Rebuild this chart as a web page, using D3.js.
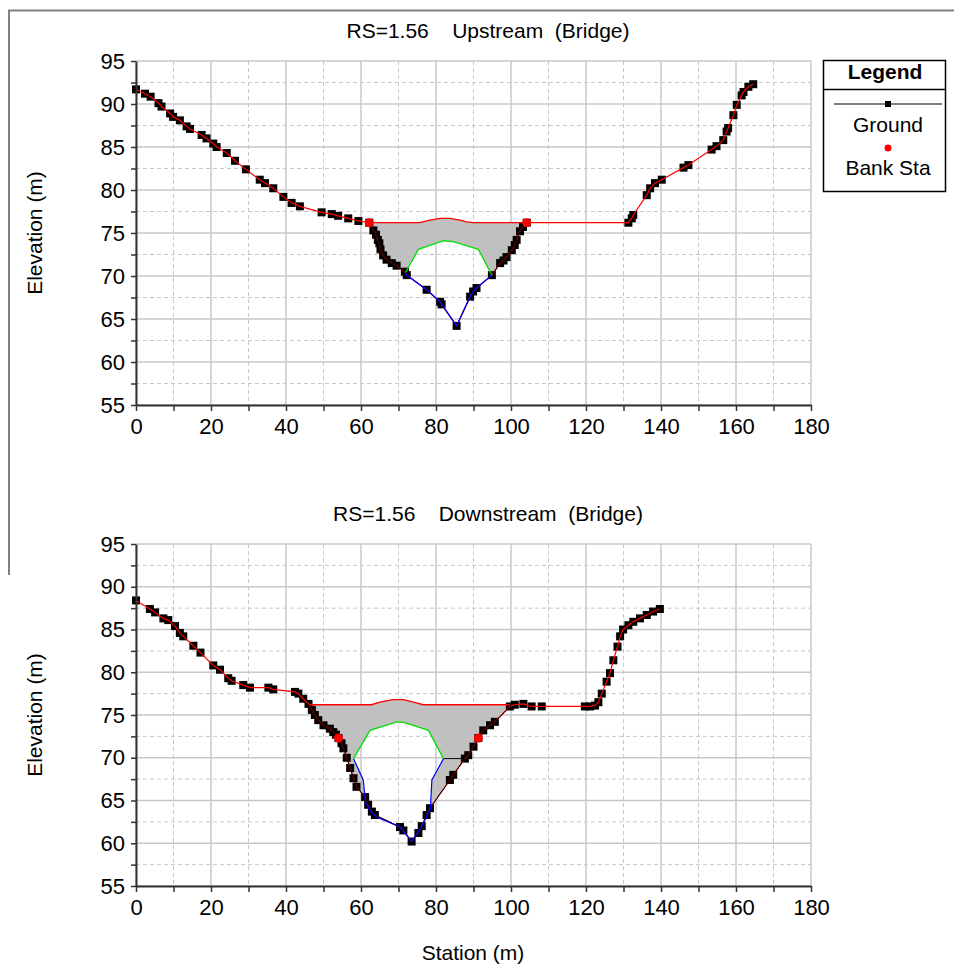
<!DOCTYPE html>
<html><head><meta charset="utf-8">
<script src="https://cdn.jsdelivr.net/npm/d3@7"></script>
<style>body{margin:0;background:#fff} text{font-family:"Liberation Sans",Arial,sans-serif;fill:#000}</style>
</head><body><svg id="c" width="954" height="967"></svg>
<script>
// ---------- Upstream (Bridge) ----------
const upGroundSta = [0,2.4,3.9,6.0,6.8,9.1,9.9,11.7,13.5,14.4,17.5,18.8,20.6,21.5,24.2,26.4,29.3,33.0,34.4,36.6,39.3,41.5,43.7,49.5,52.2,53.9,56.6,59.3,62.2,63.3,64.0,64.5,64.9,65.2,65.9,66.8,68.2,69.5,71.7,72.2,77.5,81.1,81.5,85.5,89.1,89.9,90.8,94.9,97.1,98.0,98.8,100.2,101.0,101.5,102.4,103.2,104.2,131.3,132.2,132.6,136.2,137.1,138.4,140.2,146.0,147.3,153.5,154.8,156.6,157.5,157.9,159.3,160.2,161.5,162.0,163.3,164.6];
const upGroundElev = [91.7,91.2,90.85,90.1,89.7,88.9,88.5,88.1,87.4,87.1,86.4,86.0,85.4,85.0,84.3,83.4,82.4,81.2,80.8,80.2,79.2,78.5,78.1,77.4,77.2,77.0,76.7,76.4,76.2,75.3,74.8,74.2,73.8,73.1,72.4,71.9,71.5,71.2,70.5,70.1,68.4,67.0,66.7,64.2,67.6,68.2,68.6,70.1,71.5,71.8,72.2,73.0,73.6,74.2,75.2,75.7,76.2,76.2,76.7,77.1,79.4,80.2,80.8,81.2,82.6,82.9,84.7,85.1,85.8,86.8,87.2,88.7,89.9,91.0,91.4,92.0,92.3];
const upBankSta = [62.2,104.2];
const upBankElev = [76.2,76.2];
const upDeckSta = [62.2,75.7,78.4,81.1,83.7,86.4,88.2,89.9,104.2];
const upDeckElev = [76.2,76.2,76.5,76.7,76.7,76.5,76.3,76.2,76.2];
const upLowChordSta = [71.9,75.3,82.0,84.6,91.3,94.9];
const upLowChordElev = [70.4,73.1,74.1,74.0,73.1,70.1];
const upOpeningSta = [71.9,72.2,77.5,81.1,81.5,85.5,89.1,89.9,90.8,94.9];
const upOpeningElev = [70.4,70.1,68.4,67.0,66.7,64.2,67.6,68.2,68.6,70.1];

// ---------- Downstream (Bridge) ----------
const dnGroundSta = [0,3.7,5.1,7.3,8.6,10.4,11.7,12.6,15.3,17.2,20.6,22.4,24.6,25.5,28.6,30.4,35.3,36.6,42.4,43.3,44.6,46.0,46.9,47.7,48.6,50.0,51.7,52.6,53.3,54.0,54.8,55.3,56.2,57.1,58.0,58.8,61.1,61.9,62.9,63.7,70.4,71.3,73.5,75.3,76.2,77.5,78.4,83.7,84.6,87.7,88.6,90.0,91.3,92.6,94.4,95.7,99.7,101.0,103.3,105.5,108.2,119.7,121.1,122.4,123.3,124.2,125.5,126.4,127.3,128.4,129.1,129.9,131.3,132.6,134.4,136.2,137.9,139.7];
const dnGroundElev = [88.4,87.4,87.0,86.3,86.1,85.4,84.6,84.2,83.1,82.3,80.8,80.3,79.3,79.0,78.5,78.2,78.2,78.0,77.7,77.5,76.9,76.3,75.6,75.0,74.4,73.8,73.4,73.0,72.7,72.3,71.7,71.1,70.0,68.8,67.6,66.6,65.4,64.5,63.7,63.3,61.9,61.5,60.2,61.2,62.0,63.3,64.1,67.4,68.0,69.9,70.3,71.3,72.3,73.2,73.8,74.2,76.0,76.2,76.3,76.0,76.0,76.0,76.0,76.1,76.5,77.5,78.9,79.9,81.4,83.0,84.2,85.0,85.5,85.9,86.3,86.7,87.1,87.4];
const dnBankSta = [54.0,91.3];
const dnBankElev = [72.3,72.3];
const dnDeckSta = [46.2,62.8,65.0,68.5,71.3,74.0,76.6,99.7];
const dnDeckElev = [76.2,76.2,76.5,76.8,76.8,76.5,76.2,76.2];
const dnLowChordSta = [58.0,62.4,69.5,71.7,78.0,82.0];
const dnLowChordElev = [69.9,73.2,74.2,74.1,73.2,69.9];
const dnOpeningSta = [58.0,60.6,61.2,62.9,64.4,70.4,73.5,76.2,78.5,78.9,82.0];
const dnOpeningElev = [69.9,67.4,64.8,63.5,63.0,61.9,60.2,62.0,64.0,67.4,69.9];
const dnChordLineSta = [82.0,87.7];
const dnChordLineElev = [69.9,69.9];

// ---------- Axes ----------
const xMajorTicks = [0,20,40,60,80,100,120,140,160,180];
const xMinorTicks = [10,30,50,70,90,110,130,150,170];
const yMajorTicks = [55,60,65,70,75,80,85,90,95];
const yMinorTicks = [57.5,62.5,67.5,72.5,77.5,82.5,87.5,92.5];

const svg = d3.select("#c");
const zip = (a,b) => a.map((v,i)=>[v,b[i]]);

// outer frame
svg.append("line").attr("x1",8).attr("x2",954).attr("y1",10.5).attr("y2",10.5).attr("stroke","#808080").attr("stroke-width",2);
svg.append("line").attr("x1",9).attr("x2",9).attr("y1",10).attr("y2",575).attr("stroke","#808080").attr("stroke-width",2);

function panel(cfg){
  const x = d3.scaleLinear().domain([0,180]).range([136,811]);
  const y = d3.scaleLinear().domain([55,95]).range([cfg.y1,cfg.y0]);
  const g = svg.append("g");
  // grid
  xMinorTicks.forEach(t=>g.append("line").attr("x1",x(t)).attr("x2",x(t)).attr("y1",cfg.y0).attr("y2",cfg.y1).attr("stroke","#c8c8c8").attr("stroke-dasharray","4,3"));
  yMinorTicks.forEach(t=>g.append("line").attr("x1",136).attr("x2",811).attr("y1",y(t)).attr("y2",y(t)).attr("stroke","#c8c8c8").attr("stroke-dasharray","4,3"));
  xMajorTicks.forEach(t=>g.append("line").attr("x1",x(t)).attr("x2",x(t)).attr("y1",cfg.y0).attr("y2",cfg.y1).attr("stroke","#c8c8c8").attr("stroke-width",1.5));
  yMajorTicks.forEach(t=>g.append("line").attr("x1",136).attr("x2",811).attr("y1",y(t)).attr("y2",y(t)).attr("stroke","#c8c8c8").attr("stroke-width",1.5));

  const ground = zip(cfg.gS,cfg.gE);
  const deck = zip(cfg.dS,cfg.dE);
  const lc = zip(cfg.lS,cfg.lE);
  const op = zip(cfg.oS,cfg.oE);
  const d0 = cfg.dS[0], d1 = cfg.dS[cfg.dS.length-1];
  const pt = p => x(p[0])+","+y(p[1]);
  const outer = deck.concat(ground.filter(p=>p[0]>d0 && p[0]<d1).reverse());
  const inner = lc.concat(op.slice().reverse());
  g.append("path").attr("d","M"+outer.map(pt).join("L")+"Z M"+inner.map(pt).join("L")+"Z")
    .attr("fill","#c0c0c0").attr("fill-rule","evenodd");

  const line = d3.line().x(d=>x(d[0])).y(d=>y(d[1]));
  // markers
  g.selectAll(null).data(ground).join("rect")
    .attr("x",d=>x(d[0])-4).attr("y",d=>y(d[1])-4).attr("width",8).attr("height",8).attr("fill","#000");
  // ground line
  g.append("path").attr("d",line(ground)).attr("fill","none").attr("stroke","#ff0000").attr("stroke-width",1.2);
  g.append("path").attr("d",line(ground.filter(p=>p[0]>=d0-0.5 && p[0]<=d1+0.5))).attr("fill","none").attr("stroke","#000").attr("stroke-width",1);
  if(cfg.cS) g.append("path").attr("d",line(zip(cfg.cS,cfg.cE))).attr("fill","none").attr("stroke","#000").attr("stroke-width",1);
  g.append("path").attr("d",line(op)).attr("fill","none").attr("stroke","#0000ff").attr("stroke-width",1.2);
  g.append("path").attr("d",line(lc)).attr("fill","none").attr("stroke","#00e000").attr("stroke-width",1.3);
  g.append("path").attr("d",line(deck)).attr("fill","none").attr("stroke","#ff0000").attr("stroke-width",1.3);
  // bank stations
  g.selectAll(null).data(zip(cfg.bS,cfg.bE)).join("circle")
    .attr("cx",d=>x(d[0])).attr("cy",d=>y(d[1])).attr("r",4.5).attr("fill","#ff0000");

  // axes
  const ax = g.append("g").attr("transform",`translate(0,${cfg.y1})`)
    .call(d3.axisBottom(x).tickValues(xMajorTicks.concat(xMinorTicks)).tickFormat(d=>xMajorTicks.includes(d)?d:"").tickSize(6).tickSizeOuter(0).tickPadding(7));
  const ay = g.append("g").attr("transform","translate(136,0)")
    .call(d3.axisLeft(y).tickValues(yMajorTicks.concat(yMinorTicks)).tickFormat(d=>yMajorTicks.includes(d)?d:"").tickSize(5).tickSizeOuter(0).tickPadding(6));
  [ax,ay].forEach(a=>{
    a.select(".domain").attr("stroke","#333").attr("stroke-width",2);
    a.selectAll(".tick line").attr("stroke","#333").attr("stroke-width",1.5);
    a.selectAll(".tick text").attr("font-size",22).attr("font-family","'Liberation Sans',Arial,sans-serif").attr("fill","#000");
  });
  // title
  g.append("text").attr("x",488).attr("y",cfg.y0-23).attr("text-anchor","middle").attr("font-size",21)
    .style("white-space","pre").text(cfg.title);
  // y label
  g.append("text").attr("transform",`translate(42,${(cfg.y0+cfg.y1)/2}) rotate(-90)`).attr("text-anchor","middle")
    .attr("font-size",21).text("Elevation (m)");
}

panel({y0:61,y1:405,title:"RS=1.56    Upstream  (Bridge)",
  gS:upGroundSta,gE:upGroundElev,bS:upBankSta,bE:upBankElev,dS:upDeckSta,dE:upDeckElev,
  lS:upLowChordSta,lE:upLowChordElev,oS:upOpeningSta,oE:upOpeningElev});
panel({y0:544,y1:886,title:"RS=1.56    Downstream  (Bridge)",
  gS:dnGroundSta,gE:dnGroundElev,bS:dnBankSta,bE:dnBankElev,dS:dnDeckSta,dE:dnDeckElev,
  lS:dnLowChordSta,lE:dnLowChordElev,oS:dnOpeningSta,oE:dnOpeningElev,cS:dnChordLineSta,cE:dnChordLineElev});

svg.append("text").attr("x",473).attr("y",960).attr("text-anchor","middle").attr("font-size",21).text("Station (m)");

// legend
const lg = svg.append("g");
lg.append("rect").attr("x",823.5).attr("y",60.5).attr("width",122).attr("height",131).attr("fill","#fff").attr("stroke","#000").attr("stroke-width",1.5);
lg.append("line").attr("x1",823.5).attr("x2",945.5).attr("y1",89.5).attr("y2",89.5).attr("stroke","#000").attr("stroke-width",1.5);
lg.append("text").attr("x",885).attr("y",79).attr("text-anchor","middle").attr("font-size",21).attr("font-weight","bold").text("Legend");
lg.append("line").attr("x1",834).attr("x2",942).attr("y1",104).attr("y2",104).attr("stroke","#000").attr("stroke-width",1.2);
lg.append("rect").attr("x",885).attr("y",101).attr("width",6).attr("height",6).attr("fill","#000");
lg.append("text").attr("x",888).attr("y",132).attr("text-anchor","middle").attr("font-size",21).text("Ground");
lg.append("circle").attr("cx",888).attr("cy",148).attr("r",3.5).attr("fill","#ff0000");
lg.append("text").attr("x",888).attr("y",175).attr("text-anchor","middle").attr("font-size",21).text("Bank Sta");
</script></body></html>
